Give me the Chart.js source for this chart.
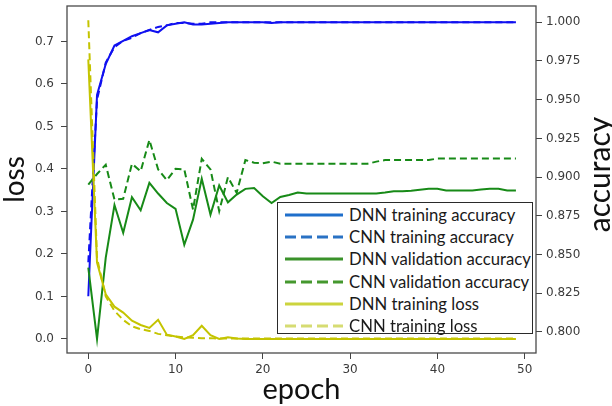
<!DOCTYPE html>
<html>
<head>
<meta charset="utf-8">
<script src="https://cdn.jsdelivr.net/npm/chart.js@4.4.1/dist/chart.umd.min.js"></script>
<style>
  html, body { margin: 0; padding: 0; background: #fff; }
  #wrap { position: relative; width: 612px; height: 406px; }
  #legend {
    position: absolute; left: 277px; top: 202px; width: 256px; height: 132px;
    border: 1.5px solid #2a2a2a; background: #fff; box-sizing: border-box;
    font-family: 'Lato', 'Open Sans', sans-serif; font-size: 16.7px; color: #1a1a1a;
  }
  .row { position: absolute; left: 0; height: 22px; width: 100%; }
  .row svg { position: absolute; left: 7px; top: 0; }
  .row span { position: absolute; left: 71px; top: 0; line-height: 22px; white-space: nowrap; }
</style>
</head>
<body>
<div id="wrap">
  <canvas id="c" width="612" height="406"></canvas>
  <div id="legend"></div>
</div>
<script>
// ---- data ----
const epochs = Array.from({length: 50}, (_, i) => i);
const xTicks = [0, 10, 20, 30, 40, 50];
const lossTicks = [0.0, 0.1, 0.2, 0.3, 0.4, 0.5, 0.6, 0.7];
const accTicks = [0.800, 0.825, 0.850, 0.875, 0.900, 0.925, 0.950, 0.975, 1.000];

const dnnTrainAcc = [0.823, 0.953, 0.973, 0.985, 0.988, 0.991, 0.993, 0.995, 0.9935, 0.998,
  0.999, 1.0, 0.9985, 0.9985, 0.999, 0.9995, 1.0, 1.0, 1.0, 1.0,
  1.0, 0.9995, 1.0, 1.0, 1.0, 1.0, 1.0, 1.0, 1.0, 1.0,
  1.0, 1.0, 1.0, 1.0, 1.0, 1.0, 1.0, 1.0, 1.0, 1.0,
  1.0, 1.0, 1.0, 1.0, 1.0, 1.0, 1.0, 1.0, 1.0, 1.0];
const cnnTrainAcc = [0.845, 0.950, 0.974, 0.984, 0.988, 0.990, 0.993, 0.995, 0.997, 0.998,
  0.9995, 0.9995, 0.999, 0.999, 1.0, 1.0, 1.0, 1.0, 1.0, 1.0,
  1.0, 1.0, 1.0, 1.0, 1.0, 1.0, 1.0, 1.0, 1.0, 1.0,
  1.0, 1.0, 1.0, 1.0, 1.0, 1.0, 1.0, 1.0, 1.0, 1.0,
  1.0, 1.0, 1.0, 1.0, 1.0, 1.0, 1.0, 1.0, 1.0, 1.0];
const dnnValAcc = [0.8415, 0.7955, 0.848, 0.882, 0.864, 0.887, 0.8786, 0.8963, 0.8894, 0.8833,
  0.8795, 0.8563, 0.8725, 0.8989, 0.8758, 0.8946, 0.8837, 0.8887, 0.8924, 0.893,
  0.8876, 0.8833, 0.8872, 0.8885, 0.890, 0.8894, 0.8894, 0.8894, 0.8894, 0.8894,
  0.8894, 0.8894, 0.8894, 0.8894, 0.8900, 0.8909, 0.8909, 0.8912, 0.8918, 0.8924,
  0.8924, 0.8914, 0.8914, 0.8914, 0.8914, 0.892, 0.8924, 0.8924, 0.8913, 0.8913];
const cnnValAcc = [0.8952, 0.902, 0.908, 0.8855, 0.886, 0.9086, 0.9038, 0.924, 0.905, 0.898,
  0.9054, 0.905, 0.879, 0.9118, 0.905, 0.878, 0.900, 0.8898, 0.911, 0.9093,
  0.909, 0.910, 0.9086, 0.9086, 0.9086, 0.9086, 0.9086, 0.9086, 0.9086, 0.9086,
  0.9086, 0.9086, 0.9086, 0.910, 0.911, 0.911, 0.911, 0.911, 0.911, 0.911,
  0.912, 0.912, 0.912, 0.912, 0.912, 0.912, 0.912, 0.912, 0.912, 0.912];
const dnnLoss = [0.658, 0.18, 0.105, 0.076, 0.062, 0.043, 0.033, 0.026, 0.045, 0.010,
  0.006, 0.000, 0.009, 0.031, 0.009, 0.000, 0.004, 0.001, 0.000, 0.000,
  0.000, 0.000, 0.000, 0.000, 0.000, 0.000, 0.000, 0.000, 0.000, 0.000,
  0.000, 0.000, 0.000, 0.000, 0.000, 0.000, 0.000, 0.000, 0.000, 0.000,
  0.000, 0.000, 0.000, 0.000, 0.000, 0.000, 0.000, 0.000, 0.000, 0.000];
const cnnLoss = [0.750, 0.19, 0.100, 0.066, 0.045, 0.030, 0.023, 0.019, 0.012, 0.009,
  0.006, 0.004, 0.003, 0.002, 0.002, 0.001, 0.001, 0.001, 0.001, 0.001,
  0.001, 0.001, 0.001, 0.001, 0.001, 0.001, 0.001, 0.001, 0.001, 0.001,
  0.001, 0.001, 0.001, 0.001, 0.001, 0.001, 0.001, 0.001, 0.001, 0.001,
  0.001, 0.001, 0.001, 0.001, 0.001, 0.001, 0.001, 0.001, 0.001, 0.001];

const legendLabels = ['DNN training accuracy', 'CNN training accuracy', 'DNN validation accuracy',
  'CNN validation accuracy', 'DNN training loss', 'CNN training loss'];
const rightTitle = 'accuracy';

// ---- styles ----
const BLUE = '#1010f0', GREEN = '#178a17', YELLOW = '#c4c400';
const legendStyle = [
  {color: '#1f6fcb', dash: ''}, {color: '#2a72c4', dash: '11 5'},
  {color: '#3a922a', dash: ''}, {color: '#45982e', dash: '11 5'},
  {color: '#ccd43e', dash: ''}, {color: '#d6dc72', dash: '11 5'}
];

function pts(arr) { return arr.map((v, i) => ({x: epochs[i], y: v})); }

const frame = {
  id: 'frame',
  afterDatasetsDraw(chart) {
    const a = chart.chartArea, ctx = chart.ctx;
    ctx.save();
    ctx.strokeStyle = '#4a4a4a';
    ctx.lineWidth = 1.3;
    ctx.strokeRect(a.left, a.top, a.right - a.left, a.bottom - a.top);
    // right-axis title, reading bottom-to-top
    ctx.translate(600, (a.top + a.bottom) / 2 - 5);
    ctx.rotate(-Math.PI / 2);
    ctx.fillStyle = '#111';
    ctx.font = '30px Lato';
    ctx.textAlign = 'center';
    ctx.textBaseline = 'middle';
    ctx.fillText(rightTitle, 0, 0);
    ctx.restore();
  }
};

const tickFont = {family: 'DejaVu Sans', size: 12};
const tickColor = '#3a3a3a';
const gridOpts = {display: true, drawOnChartArea: false, drawTicks: true, tickLength: 6, color: '#444'};
const noPadV = s => { s.paddingTop = 0; s.paddingBottom = 0; };

new Chart(document.getElementById('c'), {
  type: 'line',
  data: {
    datasets: [
      {label: legendLabels[4], data: pts(dnnLoss), yAxisID: 'y', borderColor: YELLOW, borderWidth: 2},
      {label: legendLabels[5], data: pts(cnnLoss), yAxisID: 'y', borderColor: YELLOW, borderWidth: 2, borderDash: [7, 4]},
      {label: legendLabels[2], data: pts(dnnValAcc), yAxisID: 'y2', borderColor: GREEN, borderWidth: 2},
      {label: legendLabels[3], data: pts(cnnValAcc), yAxisID: 'y2', borderColor: GREEN, borderWidth: 2, borderDash: [7, 4]},
      {label: legendLabels[0], data: pts(dnnTrainAcc), yAxisID: 'y2', borderColor: BLUE, borderWidth: 2},
      {label: legendLabels[1], data: pts(cnnTrainAcc), yAxisID: 'y2', borderColor: BLUE, borderWidth: 2, borderDash: [7, 4]}
    ]
  },
  options: {
    responsive: false,
    animation: false,
    devicePixelRatio: 1,
    layout: {padding: {top: 6, left: 0, right: 0, bottom: 0}},
    elements: {point: {radius: 0}, line: {tension: 0, fill: false}},
    plugins: {legend: {display: false}, tooltip: {enabled: false}},
    scales: {
      x: {
        type: 'linear', position: 'bottom', min: -2.44, max: 51.3,
        afterBuildTicks: s => { s.ticks = xTicks.map(v => ({value: v})); },
        afterFit: s => { s.height = 53; s.paddingLeft = 0; s.paddingRight = 0; },
        ticks: {font: tickFont, color: tickColor, padding: 4, maxRotation: 0, callback: v => String(v)},
        grid: gridOpts,
        border: {display: false},
        title: {display: true, text: 'epoch', color: '#111', padding: 0,
                font: {family: 'Lato', size: 29, lineHeight: 1.1}}
      },
      y: {
        type: 'linear', position: 'left', min: -0.033, max: 0.7835,
        afterBuildTicks: s => { s.ticks = lossTicks.map(v => ({value: v})); },
        afterFit: s => { s.width = 67; noPadV(s); },
        ticks: {font: tickFont, color: tickColor, padding: 7, callback: v => v.toFixed(1)},
        grid: gridOpts,
        border: {display: false},
        title: {display: true, text: 'loss', color: '#111', padding: 0,
                font: {family: 'Lato', size: 28, lineHeight: 1.1}}
      },
      y2: {
        type: 'linear', position: 'right', min: 0.7864, max: 1.0105,
        afterBuildTicks: s => { s.ticks = accTicks.map(v => ({value: v})); },
        afterFit: s => { s.width = 76; noPadV(s); },
        ticks: {font: tickFont, color: tickColor, padding: 4, callback: v => v.toFixed(3)},
        grid: gridOpts,
        border: {display: false},
        title: {display: false}
      }
    }
  },
  plugins: [frame]
});

// ---- legend (HTML) ----
const leg = document.getElementById('legend');
legendLabels.forEach((lab, i) => {
  const row = document.createElement('div');
  row.className = 'row';
  row.style.top = (1 + i * 22.2) + 'px';
  const st = legendStyle[i];
  row.innerHTML = '<svg width="60" height="22"><line x1="0" y1="11" x2="58" y2="11" stroke="' + st.color +
    '" stroke-width="3"' + (st.dash ? ' stroke-dasharray="' + st.dash + '"' : '') + '/></svg><span>' + lab + '</span>';
  leg.appendChild(row);
});
</script>
</body>
</html>
